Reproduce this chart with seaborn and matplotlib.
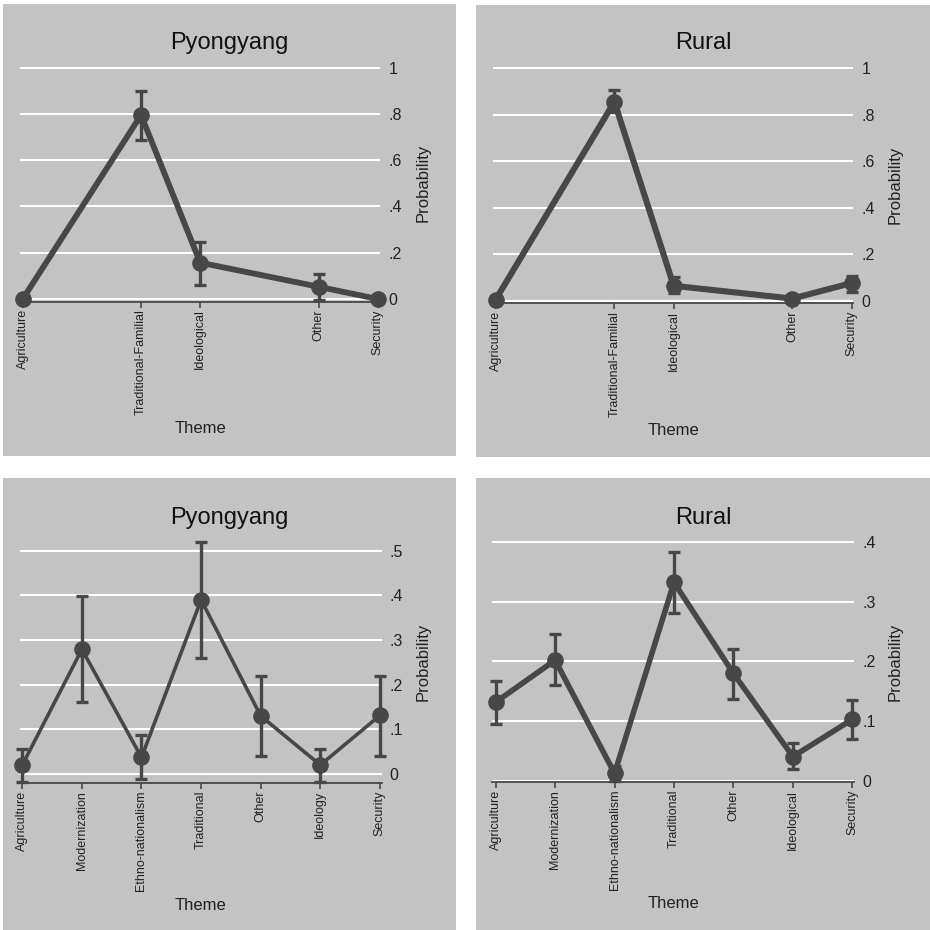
import numpy as np
import matplotlib
matplotlib.use("Agg")
import matplotlib.pyplot as plt
from matplotlib.patches import Rectangle
import seaborn as sns

W, H = 930, 930
BG = "#c3c3c3"
INK = "#474747"

# top row: themes coded on an uneven numeric axis
top_codes = [1, 3, 4, 6, 7]
top_labels = ["Agriculture", "Traditional-Familial", "Ideological", "Other", "Security"]

pyong_top = [0.0, 0.795, 0.157, 0.053, 0.0]
pyong_top_lo = [0.0, 0.687, 0.06, -0.005, 0.0]
pyong_top_hi = [0.0, 0.90, 0.248, 0.108, 0.0]

rural_top = [0.005, 0.856, 0.064, 0.009, 0.076]
rural_top_lo = [0.0, 0.81, 0.034, 0.0, 0.037]
rural_top_hi = [0.01, 0.907, 0.10, 0.02, 0.107]

# bottom row: seven themes
pyong_bot_labels = ["Agriculture", "Modernization", "Ethno-nationalism", "Traditional",
                    "Other", "Ideology", "Security"]
pyong_bot = [0.02, 0.279, 0.037, 0.39, 0.13, 0.02, 0.131]
pyong_bot_lo = [-0.017, 0.16, -0.012, 0.259, 0.041, -0.017, 0.041]
pyong_bot_hi = [0.055, 0.398, 0.087, 0.52, 0.219, 0.055, 0.219]

rural_bot_labels = ["Agriculture", "Modernization", "Ethno-nationalism", "Traditional",
                    "Other", "Ideological", "Security"]
rural_bot = [0.132, 0.202, 0.013, 0.332, 0.18, 0.041, 0.103]
rural_bot_lo = [0.096, 0.161, 0.0, 0.281, 0.138, 0.02, 0.071]
rural_bot_hi = [0.168, 0.246, 0.025, 0.382, 0.22, 0.063, 0.135]

sns.set_theme(style="white")
plt.rcParams["font.family"] = ["Liberation Sans", "DejaVu Sans"]

fig = plt.figure(figsize=(W / 100, H / 100), dpi=100)
fig.patch.set_facecolor("white")

panels = [
    dict(title="Pyongyang", x=top_codes, labels=top_labels, y=pyong_top, lo=pyong_top_lo, hi=pyong_top_hi,
         panel=(3, 456, 4, 456), box=(20, 380, 66, 301.7), xlim=(0.954, 7.039), ylim=(-0.0117, 1.007),
         yticks=[0, .2, .4, .6, .8, 1], ytl=["0", ".2", ".4", ".6", ".8", "1"], lw=4.2,
         title_y=43, theme_y=428, prob=(423, 183)),
    dict(title="Rural", x=top_codes, labels=top_labels, y=rural_top, lo=rural_top_lo, hi=rural_top_hi,
         panel=(476, 930, 5, 457), box=(493, 853, 66.5, 303), xlim=(0.9545, 7.022), ylim=(-0.01, 1.008),
         yticks=[0, .2, .4, .6, .8, 1], ytl=["0", ".2", ".4", ".6", ".8", "1"], lw=4.4,
         title_y=43, theme_y=430, prob=(895, 185)),
    dict(title="Pyongyang", x=list(range(7)), labels=pyong_bot_labels, y=pyong_bot, lo=pyong_bot_lo, hi=pyong_bot_hi,
         panel=(3, 456, 478, 930), box=(19.5, 381.5, 548, 783.3), xlim=(-0.047, 6.027), ylim=(-0.021, 0.506),
         yticks=[0, .1, .2, .3, .4, .5], ytl=["0", ".1", ".2", ".3", ".4", ".5"], lw=2.6,
         title_y=518, theme_y=905, prob=(423, 662)),
    dict(title="Rural", x=list(range(7)), labels=rural_bot_labels, y=rural_bot, lo=rural_bot_lo, hi=rural_bot_hi,
         panel=(476, 930, 478, 930), box=(492.3, 854.3, 539, 782.3), xlim=(-0.057, 6.034), ylim=(-0.002, 0.4045),
         yticks=[0, .1, .2, .3, .4], ytl=["0", ".1", ".2", ".3", ".4"], lw=4.0,
         title_y=518, theme_y=903, prob=(895, 662)),
]

for p in panels:
    # grey panel behind each chart
    px0, px1, py0, py1 = p["panel"]
    fig.patches.append(Rectangle((px0 / W, 1 - py1 / H), (px1 - px0) / W, (py1 - py0) / H,
                                 transform=fig.transFigure, facecolor=BG, edgecolor="none", zorder=-5))
    x0, x1, y0, y1 = p["box"]
    ax = fig.add_axes([x0 / W, 1 - y1 / H, (x1 - x0) / W, (y1 - y0) / H])
    ax.set_facecolor(BG)

    x = np.array(p["x"], dtype=float)
    y = np.array(p["y"])
    err = [y - np.array(p["lo"]), np.array(p["hi"]) - y]
    ax.errorbar(x, y, yerr=err, fmt="none", ecolor=INK, elinewidth=2.4, capsize=4.5,
                capthick=2.4, zorder=3, clip_on=False)
    sns.lineplot(x=x, y=y, ax=ax, color=INK, linewidth=p["lw"], marker="o", markersize=12,
                 markeredgewidth=0, zorder=4, clip_on=False)

    ax.set_xlim(*p["xlim"])
    ax.set_ylim(*p["ylim"])
    ax.set_xticks(x)
    ax.set_xticklabels(p["labels"], rotation=90, fontsize=9, color="#222222")
    ax.set_yticks(p["yticks"])
    ax.set_yticklabels(p["ytl"], fontsize=11.5, color="#222222")
    ax.yaxis.tick_right()
    ax.grid(axis="y", color="white", linewidth=1.5)
    ax.grid(axis="x", visible=False)
    ax.set_axisbelow(True)
    for side in ["top", "left", "right"]:
        ax.spines[side].set_visible(False)
    ax.spines["bottom"].set_color(INK)
    ax.spines["bottom"].set_linewidth(1.3)
    ax.tick_params(axis="x", direction="out", length=4, width=1.2, color=INK, pad=1.5, bottom=True)
    ax.tick_params(axis="y", length=0, pad=6)

    ax.set_xlabel("Theme", fontsize=12, color="#222222")
    ax.xaxis.set_label_coords((x0 + x1) / 2 / W, 1 - p["theme_y"] / H, transform=fig.transFigure)
    ax.xaxis.label.set_va("center")
    ax.yaxis.set_label_position("right")
    ax.set_ylabel("Probability", fontsize=12, color="#222222", rotation=90)
    ax.yaxis.set_label_coords(p["prob"][0] / W, 1 - p["prob"][1] / H, transform=fig.transFigure)
    ax.yaxis.label.set_va("center")

    fig.text((px0 + px1) / 2 / W, 1 - p["title_y"] / H, p["title"], ha="center", va="center",
             fontsize=17, color="#111111")

fig.savefig("out.png", dpi=100, facecolor="white")
